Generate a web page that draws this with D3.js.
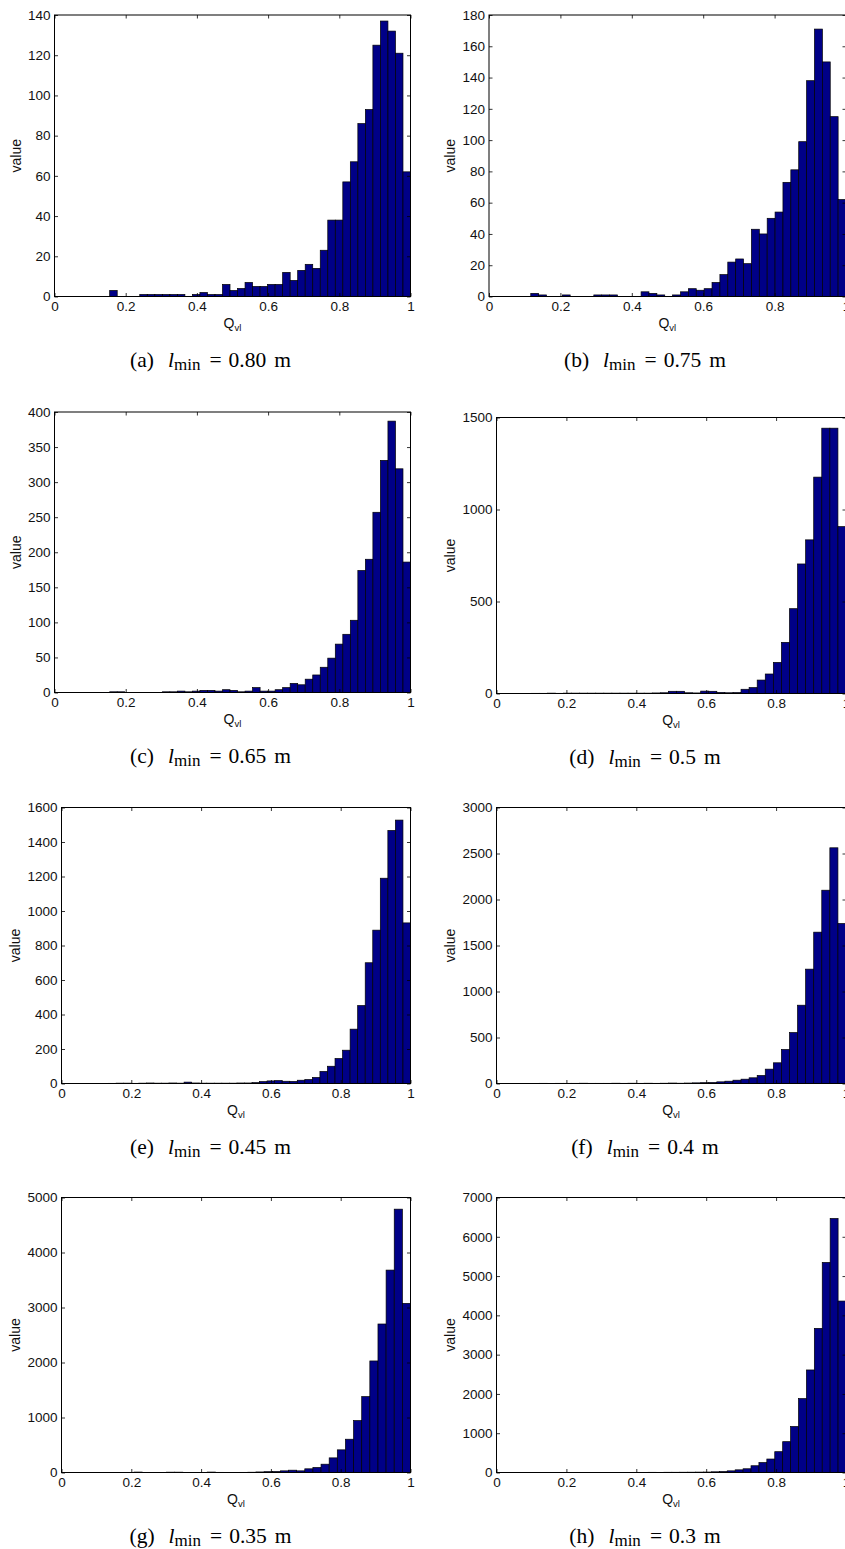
<!DOCTYPE html>
<html>
<head>
<meta charset="utf-8">
<script src="https://cdn.jsdelivr.net/npm/d3@7.9.0/dist/d3.min.js"></script>
<style>
  body { margin: 0; background: #fff; }
  svg { display: block; }
  .tick text { font-family: "Liberation Sans", Arial, Helvetica, sans-serif; font-size: 13.5px; fill: #111; }
  .lbl { font-family: "Liberation Sans", Arial, Helvetica, sans-serif; font-size: 14px; fill: #111; }
  .cap { font-family: "Liberation Serif", "Times New Roman", serif; font-size: 21.5px; fill: #000; }
</style>
</head>
<body>
<svg id="fig" width="845" height="1549"></svg>
<script>
// histogram counts, 40 bins from the lowest Q_vl up to 1, one array per sub-figure
const countsA = [3, 0, 0, 0, 1, 1, 1, 1, 1, 1, 0, 1, 2, 1, 1, 6, 3, 4, 7, 5,
  5, 6, 6, 12, 8, 13, 16, 14, 23, 38, 38, 57, 67, 86, 93, 125, 137, 132, 121, 62];
const countsB = [2, 1, 0, 0, 1, 0, 0, 0, 1, 1, 1, 0, 0, 0, 3, 2, 1, 0, 1, 3,
  5, 4, 5, 9, 14, 22, 24, 21, 43, 40, 50, 54, 73, 81, 99, 138, 171, 150, 115, 62];
const countsC = [1, 1, 0, 0, 0, 0, 0, 1, 1, 2, 1, 2, 3, 3, 2, 4, 3, 1, 2, 7,
  2, 2, 4, 7, 13, 11, 19, 25, 36, 49, 69, 83, 103, 174, 190, 257, 331, 387, 319, 186];
const countsD = [0, 1, 1, 2, 1, 2, 2, 2, 2, 2, 2, 2, 2, 2, 2, 2, 3, 4, 12, 12,
  4, 3, 13, 12, 6, 4, 5, 23, 32, 73, 106, 169, 278, 461, 704, 835, 1176, 1442, 1442, 907];
const countsE = [1, 2, 2, 1, 2, 3, 2, 2, 3, 2, 8, 3, 2, 2, 2, 2, 2, 3, 3, 5,
  11, 15, 17, 13, 12, 19, 23, 35, 70, 100, 145, 193, 315, 452, 700, 889, 1190, 1467, 1527, 931];
const countsF = [1, 1, 2, 1, 2, 2, 2, 3, 2, 2, 2, 3, 2, 3, 2, 3, 2, 3, 5, 3,
  5, 7, 9, 11, 18, 25, 36, 47, 62, 87, 156, 225, 370, 554, 851, 1243, 1645, 2101, 2562, 1739];
const countsG = [0, 1, 2, 1, 2, 2, 8, 2, 2, 2, 6, 6, 2, 2, 2, 8, 3, 2, 2, 3,
  5, 10, 15, 18, 30, 42, 30, 67, 91, 151, 266, 412, 605, 944, 1380, 2028, 2700, 3680, 4788, 3075];
const countsH = [0, 1, 1, 2, 2, 2, 2, 3, 2, 2, 3, 3, 2, 4, 3, 5, 4, 6, 6, 7,
  8, 10, 12, 18, 25, 42, 68, 95, 172, 254, 343, 530, 785, 1172, 1881, 2610, 3669, 5347, 6466, 4364];

// lowest Q_vl of each set (left edge of the first bin)
const binStarts = [0.155, 0.117, 0.155, 0.076, 0.135, 0.076, 0.068, 0.094];

const xTicks = [0, 0.2, 0.4, 0.6, 0.8, 1];
const xTickLabels = ['0', '0.2', '0.4', '0.6', '0.8', '1'];

const yTicksA = [0, 20, 40, 60, 80, 100, 120, 140];
const yTicksB = [0, 20, 40, 60, 80, 100, 120, 140, 160, 180];
const yTicksC = [0, 50, 100, 150, 200, 250, 300, 350, 400];
const yTicksD = [0, 500, 1000, 1500];
const yTicksE = [0, 200, 400, 600, 800, 1000, 1200, 1400, 1600];
const yTicksF = [0, 500, 1000, 1500, 2000, 2500, 3000];
const yTicksG = [0, 1000, 2000, 3000, 4000, 5000];
const yTicksH = [0, 1000, 2000, 3000, 4000, 5000, 6000, 7000];

const letters = ['a', 'b', 'c', 'd', 'e', 'f', 'g', 'h'];
const lminValues = ['0.80', '0.75', '0.65', '0.5', '0.45', '0.4', '0.35', '0.3'];

const allCounts = [countsA, countsB, countsC, countsD, countsE, countsF, countsG, countsH];
const allYTicks = [yTicksA, yTicksB, yTicksC, yTicksD, yTicksE, yTicksF, yTicksG, yTicksH];

// plot boxes (pixels) - the right column runs off the page edge like the original
const frames = [
  { left: 54.5, right: 410.5, top: 15, bottom: 296.5 },
  { left: 489, right: 846, top: 15, bottom: 296.5 },
  { left: 54.5, right: 410.5, top: 412, bottom: 692.5 },
  { left: 496.5, right: 846, top: 417.5, bottom: 693.5 },
  { left: 61.5, right: 410.5, top: 807.5, bottom: 1083.5 },
  { left: 496.5, right: 846, top: 807.5, bottom: 1083.5 },
  { left: 61.5, right: 410.5, top: 1197.5, bottom: 1472.5 },
  { left: 496.5, right: 846, top: 1197.5, bottom: 1472.5 }
];
const captionX = [210.5, 645];

let svg = d3.select('#fig');

function drawPanel(i) {
  let f = frames[i];
  let counts = allCounts[i];
  let yTicks = allYTicks[i];
  let g = svg.append('g');

  let x = d3.scaleLinear().domain([0, 1]).range([f.left, f.right]);
  let y = d3.scaleLinear().domain([0, d3.max(yTicks)]).range([f.bottom, f.top]);

  // bin edges: equal bins from the lowest value to 1
  let bw = (1 - binStarts[i]) / counts.length;
  let edge = (k) => binStarts[i] + k * bw;

  g.selectAll('rect.bar')
    .data(counts)
    .join('rect')
    .attr('class', 'bar')
    .attr('x', (d, k) => x(edge(k)))
    .attr('width', (d, k) => x(edge(k + 1)) - x(edge(k)))
    .attr('y', d => y(d))
    .attr('height', d => y(0) - y(d))
    .attr('fill', '#000087')
    .attr('stroke', '#000')
    .attr('stroke-width', 0.7);

  // ticks point inward on all four sides (matlab style)
  let xb = g.append('g').attr('transform', `translate(0,${f.bottom})`)
    .call(d3.axisBottom(x).tickValues(xTicks).tickFormat((d, k) => xTickLabels[k])
      .tickSizeInner(-3.5).tickSizeOuter(0).tickPadding(5));
  let xt = g.append('g').attr('transform', `translate(0,${f.top})`)
    .call(d3.axisTop(x).tickValues(xTicks).tickFormat('').tickSizeInner(-3.5).tickSizeOuter(0));
  let yl = g.append('g').attr('transform', `translate(${f.left},0)`)
    .call(d3.axisLeft(y).tickValues(yTicks).tickFormat(d3.format('d'))
      .tickSizeInner(-3.5).tickSizeOuter(0).tickPadding(4));
  let yr = g.append('g').attr('transform', `translate(${f.right},0)`)
    .call(d3.axisRight(y).tickValues(yTicks).tickFormat('').tickSizeInner(-3.5).tickSizeOuter(0));
  [xb, xt, yl, yr].forEach(a => {
    a.select('.domain').remove();
    a.selectAll('line').attr('stroke', '#000').attr('stroke-width', 0.8);
  });

  // box round the plot
  g.append('rect')
    .attr('x', f.left).attr('y', f.top)
    .attr('width', f.right - f.left).attr('height', f.bottom - f.top)
    .attr('fill', 'none').attr('stroke', '#000').attr('stroke-width', 1);

  // y label sits just left of the widest tick label
  let widest = d3.max(yl.selectAll('text').nodes(), n => n.getComputedTextLength());
  let lx = f.left - 4 - widest - 7;
  g.append('text').attr('class', 'lbl')
    .attr('transform', `translate(${lx},${(f.top + f.bottom) / 2}) rotate(-90)`)
    .attr('text-anchor', 'middle')
    .text('value');

  // x label Q_vl
  let q = g.append('text').attr('class', 'lbl')
    .attr('x', (f.left + Math.min(f.right, 845.7)) / 2)
    .attr('y', f.bottom + 31)
    .attr('text-anchor', 'middle');
  q.append('tspan').text('Q');
  q.append('tspan').attr('dy', 3.5).attr('font-size', '9.5px').text('vl');

  // caption under each sub-figure
  let cap = g.append('text').attr('class', 'cap')
    .attr('x', captionX[i % 2])
    .attr('y', f.bottom + 70.5)
    .attr('text-anchor', 'middle');
  cap.append('tspan').text(`(${letters[i]})`);
  cap.append('tspan').attr('dx', 14).attr('font-style', 'italic').text('l');
  cap.append('tspan').attr('dy', 3).attr('font-size', '17px').text('min');
  cap.append('tspan').attr('dy', -3).attr('dx', 9).text('=');
  cap.append('tspan').attr('dx', 7).text(lminValues[i]);
  cap.append('tspan').attr('dx', 8).text('m');
}

d3.range(allCounts.length).forEach(drawPanel);
</script>
</body>
</html>
